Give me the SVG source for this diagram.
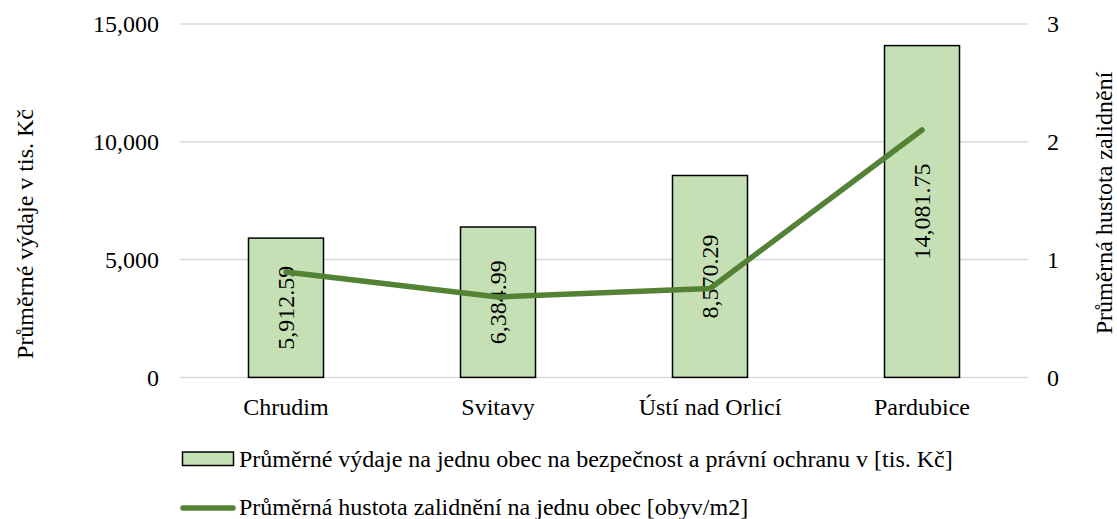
<svg xmlns="http://www.w3.org/2000/svg" width="1117" height="519" viewBox="0 0 1117 519">
<style>
text{font-size:24px;fill:#000}
.grid{stroke:#D9D9D9;stroke-width:1.5}
.bar{fill:#C5E0B4;stroke:#000;stroke-width:1.5}
.line{fill:none;stroke:#548235;stroke-width:5.5;stroke-linecap:round;stroke-linejoin:round}
.l{text-anchor:end}
.m{text-anchor:middle}
</style>
<rect width="1117" height="519" fill="#fff"/>
<g font-family="Liberation Serif, Tinos, DejaVu Serif, serif">
<g id="gridlines">
<line class="grid" x1="180" y1="24" x2="1028" y2="24"/>
<line class="grid" x1="180" y1="141.8" x2="1028" y2="141.8"/>
<line class="grid" x1="180" y1="259.6" x2="1028" y2="259.6"/>
<line class="grid" x1="180" y1="377.4" x2="1028" y2="377.4"/>
</g>
<g id="left-axis">
<text class="l" x="159" y="32">15,000</text>
<text class="l" x="159" y="150">10,000</text>
<text class="l" x="159" y="268">5,000</text>
<text class="l" x="159" y="386">0</text>
<text class="m" transform="translate(33,234) rotate(-90)">Průměrné výdaje v tis. Kč</text>
</g>
<g id="right-axis">
<text x="1047" y="32">3</text>
<text x="1047" y="150">2</text>
<text x="1047" y="268">1</text>
<text x="1047" y="386">0</text>
<text class="m" transform="translate(1112,203) rotate(-90)">Průměrná hustota zalidnění</text>
</g>
<g id="bar-chrudim">
<rect class="bar" x="248.5" y="238.1" width="75" height="139.3"/>
<text class="m" transform="translate(294,307.7) rotate(-90)">5,912.59</text>
<text class="m" x="286" y="415">Chrudim</text>
</g>
<g id="bar-svitavy">
<rect class="bar" x="460.5" y="227" width="75" height="150.4"/>
<text class="m" transform="translate(506,302.2) rotate(-90)">6,384.99</text>
<text class="m" x="498" y="415">Svitavy</text>
</g>
<g id="bar-usti">
<rect class="bar" x="672.5" y="175.5" width="75" height="201.9"/>
<text class="m" transform="translate(718,276.4) rotate(-90)">8,570.29</text>
<text class="m" x="710" y="415">Ústí nad Orlicí</text>
</g>
<g id="bar-pardubice">
<rect class="bar" x="884.5" y="45.6" width="75" height="331.8"/>
<text class="m" transform="translate(930,211.5) rotate(-90)">14,081.75</text>
<text class="m" x="922" y="415">Pardubice</text>
</g>
<g id="connectors">
<polyline class="line" points="286,272 498,297 710,288.5 922,130"/>
</g>
<g id="legend">
<rect class="bar" x="182.5" y="452" width="51" height="13.5"/>
<text x="239" y="467">Průměrné výdaje na jednu obec na bezpečnost a právní ochranu v [tis. Kč]</text>
<line x1="183" y1="508" x2="233" y2="508" stroke="#548235" stroke-width="5.5" stroke-linecap="round"/>
<text x="239" y="515">Průměrná hustota zalidnění na jednu obec [obyv/m2]</text>
</g>
</g>
</svg>
